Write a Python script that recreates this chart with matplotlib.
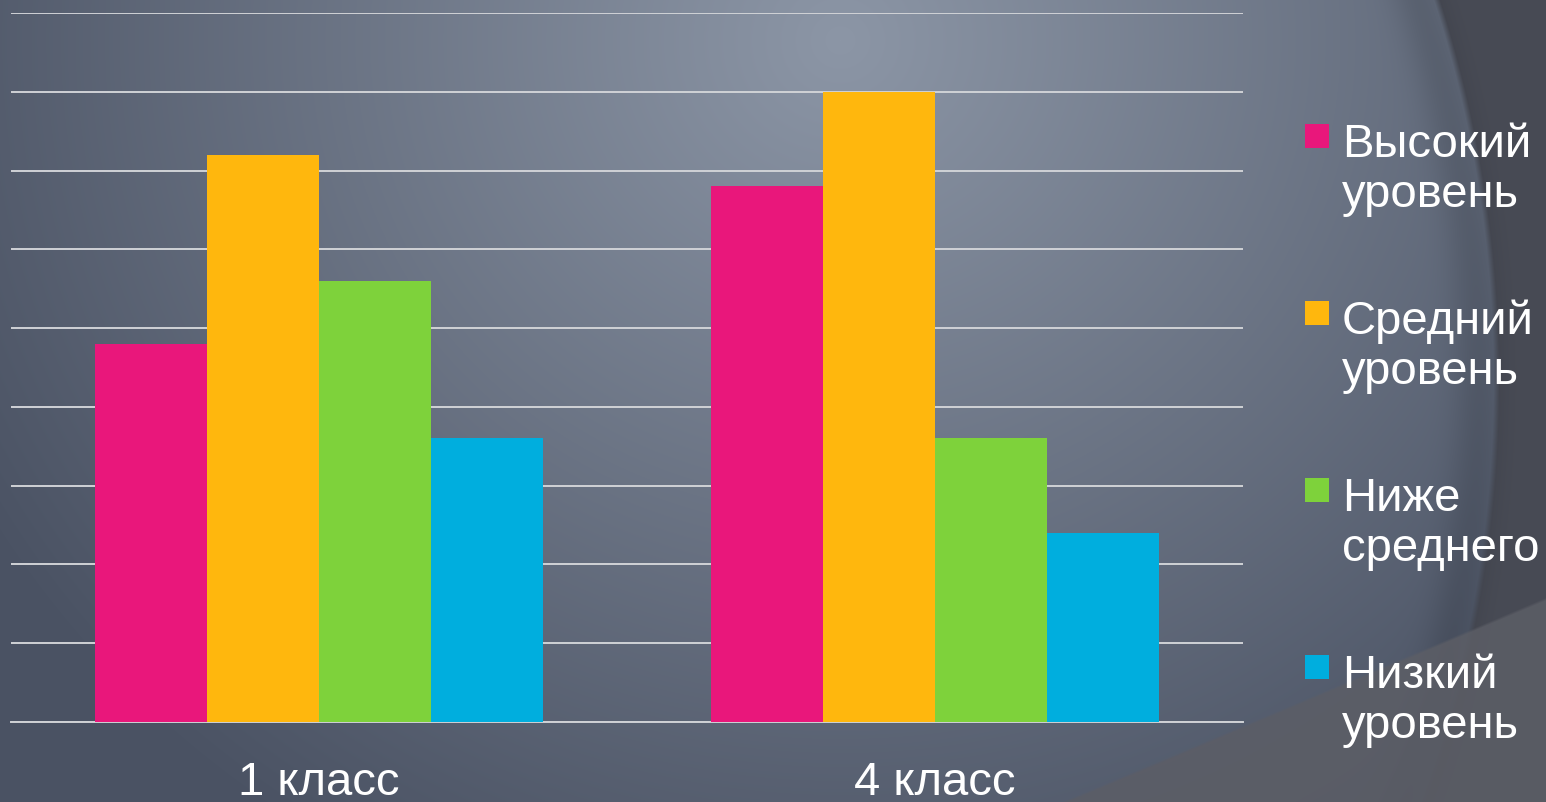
import numpy as np
import matplotlib
matplotlib.use("Agg")
import matplotlib.pyplot as plt
from matplotlib.patches import Rectangle

# ---- data ----
categories = ["1 класс", "4 класс"]
series_names = ["Высокий\nуровень", "Средний\nуровень", "Ниже\nсреднего", "Низкий\nуровень"]
vysokiy = [4.8, 6.8]
sredniy = [7.2, 8.0]
nizhe_srednego = [5.6, 3.6]
nizkiy = [3.6, 2.4]
series_values = [vysokiy, sredniy, nizhe_srednego, nizkiy]
colors = ["#E9177B", "#FFB70D", "#7ED23B", "#00AEDE"]
y_ticks = list(range(0, 10))

W, H = 1546, 802
plt.rcParams["font.family"] = ["Liberation Sans", "DejaVu Sans"]
fig = plt.figure(figsize=(W / 100, H / 100), dpi=100)

# ---- background ----
yy, xx = np.mgrid[0:H, 0:W].astype(float)
d = np.sqrt(((xx - 840) / 1000) ** 2 + ((yy - 40) / 950) ** 2)
d = np.clip(d, 0, 1)[..., None]
light = np.array([140, 150, 166]) / 255
dark = np.array([74, 82, 99]) / 255
img = light * (1 - d) + dark * d
# darker region right of big arc
cx, cy, r = 250, 380, 1243
dist = np.sqrt((xx - cx) ** 2 + (yy - cy) ** 2)
t = np.clip((dist - r) / 6, 0, 1)[..., None]
outside = np.array([72, 75, 85]) / 255
img = img * (1 - t) + outside * t
# shading along arc edge
edge = np.exp(-((dist - r + 15) / 25) ** 2)[..., None]
img = img * (1 - 0.12 * edge)
# diagonal band bottom-right
line_y = 743 + (xx - 1200) * (597 - 743) / (1546 - 1200)
tb = np.clip((yy - line_y) / 3, 0, 1)[..., None]
band = np.array([92, 94, 102]) / 255
img = img * (1 - 0.85 * tb) + band * 0.85 * tb
img = np.clip(img, 0, 1)

ax_bg = fig.add_axes([0, 0, 1, 1], zorder=0)
ax_bg.imshow(img, aspect="auto", extent=[0, W, H, 0], interpolation="bilinear")
ax_bg.axis("off")

# ---- main axes ----
ax = fig.add_axes([11 / W, 80 / H, 1232 / W, 709 / H], zorder=1)
ax.set_facecolor("none")
x = np.arange(len(categories))
n = len(series_values)
w = 0.7273 / n
for i, vals in enumerate(series_values):
    ax.bar(x + (i - (n - 1) / 2) * w, vals, width=w, color=colors[i],
           linewidth=0, zorder=3)
ax.set_xlim(-0.5, len(categories) - 0.5)
ax.set_ylim(0, 9)
ax.set_yticks(y_ticks)
ax.yaxis.grid(True, color="#d0d2d6", linewidth=1.4, zorder=1)
ax.tick_params(axis="y", length=0, labelleft=False)
for s in ["top", "right", "left"]:
    ax.spines[s].set_visible(False)
ax.spines["bottom"].set_color("#d0d2d6")
ax.spines["bottom"].set_linewidth(1.4)
ax.set_xticks(x)
ax.set_xticklabels(categories, fontsize=34, color="white")
ax.tick_params(axis="x", length=0, pad=52.5)
for lbl in ax.get_xticklabels():
    lbl.set_verticalalignment("baseline")

# ---- legend (manual) ----
base0 = 153
step = 177
line_gap = 54
for i, name in enumerate(series_names):
    b = base0 + i * step
    fig.patches.append(Rectangle((1305 / W, 1 - (b - 5) / H), 24 / W, 24 / H,
                                 transform=fig.transFigure, color=colors[i],
                                 linewidth=0, zorder=5))
    # multi-line text: baseline alignment refers to the last line
    fig.text(1342 / W, 1 - (b + line_gap) / H, name, fontsize=34, color="white",
             va="baseline", ha="left", linespacing=1.19, zorder=5)

fig.savefig("out.png", dpi=100)
